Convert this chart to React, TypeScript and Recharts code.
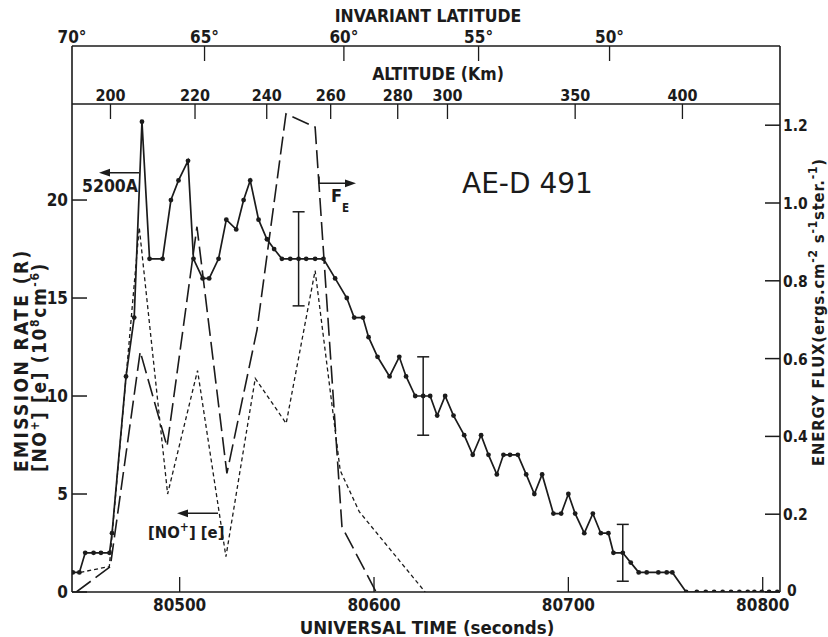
import React from 'react';
import { ComposedChart, Line, XAxis, YAxis, ErrorBar } from 'recharts';

// ---- 5200A emission rate (R), solid line with dots (left axis) ----
const emissionTime = [
  80445.0, 80448.4, 80451.4, 80455.7, 80459.5, 80463.9, 80465.2, 80472.4, 80476.6, 80480.6,
  80484.5, 80491.2, 80495.5, 80499.4, 80504.3, 80507.1, 80511.8, 80515.2, 80520.0, 80524.0,
  80529.1, 80532.9, 80536.3, 80540.6, 80544.9, 80548.6, 80552.6, 80556.9, 80561.2, 80565.1,
  80569.7, 80574.0, 80580.0, 80586.0, 80589.8, 80594.3, 80597.2, 80601.8, 80608.0, 80613.0,
  80616.5, 80621.2, 80625.3, 80628.9, 80632.5, 80636.6, 80640.9, 80646.4, 80650.8, 80655.1,
  80658.9, 80663.2, 80666.6, 80670.0, 80674.0, 80678.3, 80682.5, 80686.5, 80692.3, 80696.3,
  80700.0, 80703.5, 80708.2, 80712.6, 80716.7, 80720.6, 80723.2, 80728.0, 80732.1, 80736.2,
  80740.3, 80746.3, 80750.6, 80753.5, 80760.6, 80766.1, 80770.7, 80775.0, 80779.4, 80783.7,
  80788.0, 80792.3, 80795.7, 80799.5, 80803.3, 80807.5,
];
const emissionRate = [
  1, 1, 2, 2, 2, 2, 3, 11, 14, 24,
  17, 17, 20, 21, 22, 17, 16, 16, 17, 19,
  18.5, 20, 21, 19, 18, 17.5, 17, 17, 17, 17,
  17, 17, 16, 15, 14, 14, 13, 12, 11, 12,
  11, 10, 10, 10, 9, 10, 9, 8, 7, 8,
  7, 6, 7, 7, 7, 6, 5, 6, 4, 4,
  5, 4, 3, 4, 3, 3, 2, 2, 1.5, 1,
  1, 1, 1, 1, 0, 0, 0, 0, 0, 0,
  0, 0, 0, 0, 0, 0,
];
// error bars: index into the emission series and half-size (R)
const errorIndex = [28, 42, 67];
const errorSize = [2.4, 2, 1.45];

// ---- Energy flux F_E (ergs cm^-2 s^-1 ster^-1), long dashes (right axis) ----
const fluxTime = [80446.8, 80464.3, 80479.7, 80493.5, 80508.9, 80524.3, 80539.8, 80554.7, 80569.7, 80583.5, 80601.1];
const fluxValue = [0, 0.065, 0.618, 0.374, 0.939, 0.305, 0.674, 1.229, 1.195, 0.168, 0];

// ---- [NO+][e] (10^8 cm^-6), short dashes (left axis) ----
const noTime = [80448.9, 80463.8, 80479.2, 80493.8, 80509.2, 80523.8, 80538.9, 80554.8, 80569.7, 80582.6, 80592.4, 80626.3];
const noValue = [1.0, 1.3, 18.6, 5.0, 11.3, 1.8, 10.9, 8.6, 16.4, 6.2, 4.1, 0];

// ---- axes ----
const timeTicks = [80500, 80600, 80700, 80800];
const leftTicks = [0, 5, 10, 15, 20];
const rightTicks = [0, 0.2, 0.4, 0.6, 0.8, 1.0, 1.2];
const altitudeLabels = [200, 220, 240, 260, 280, 300, 350, 400];
const altitudeTime = [80464.4, 80507.9, 80544.8, 80577.7, 80612.2, 80637.8, 80703.5, 80758.7];
const latitudeLabels = [70, 65, 60, 55, 50];
const latitudeTime = [80444.6, 80512.8, 80584.5, 80653.8, 80721.2];

const TIME_DOMAIN: [number, number] = [80444.6, 80808.9];

const emissionData = emissionTime.map((t, i) => {
  const k = errorIndex.indexOf(i);
  return { t, v: emissionRate[i], err: k >= 0 ? errorSize[k] : undefined };
});
const fluxData = fluxTime.map((t, i) => ({ t, v: fluxValue[i] }));
const noData = noTime.map((t, i) => ({ t, v: noValue[i] }));

const INK = '#1b1b1b';
const FONT = '"DejaVu Sans Condensed", "DejaVu Sans", sans-serif';
const TICK_FS = 17;
const W = 600;

const LeftTick = (p: any) => (
  <g>
    <line x1={p.x} y1={p.y} x2={p.x + 15} y2={p.y} stroke={INK} strokeWidth={1.5} />
    <text x={p.x - 4} y={p.y + 6} textAnchor="end" fontSize={TICK_FS} fontWeight={W} fill={INK} fontFamily={FONT}>
      {p.payload.value}
    </text>
  </g>
);
const RightTick = (p: any) => (
  <g>
    <line x1={p.x - 15} y1={p.y} x2={p.x} y2={p.y} stroke={INK} strokeWidth={1.5} />
    <text
      x={p.x + (p.payload.value === 0 ? 7 : 3)}
      y={p.y + (p.payload.value === 0 ? 4 : 6)}
      textAnchor="start"
      fontSize={15.5}
      fontWeight={W}
      fill={INK}
      fontFamily={FONT}
    >
      {p.payload.value === 0 ? '0' : p.payload.value.toFixed(1)}
    </text>
  </g>
);
const BottomTick = (p: any) => (
  <g>
    <line x1={p.x} y1={p.y} x2={p.x} y2={p.y - 15} stroke={INK} strokeWidth={1.3} />
    <text x={p.x} y={p.y + 19} textAnchor="middle" fontSize={TICK_FS} fontWeight={W} fill={INK} fontFamily={FONT}>
      {p.payload.value}
    </text>
  </g>
);
const AltitudeTick = (p: any) => (
  <g>
    <line x1={p.x} y1={p.y} x2={p.x} y2={p.y + 15} stroke={INK} strokeWidth={1.3} />
    <text x={p.x} y={p.y - 3} textAnchor="middle" fontSize={16} fontWeight={W} fill={INK} fontFamily={FONT}>
      {altitudeLabels[p.index]}
    </text>
  </g>
);
const LatitudeTick = (p: any) => (
  <g>
    {p.index > 0 && <line x1={p.x} y1={p.y} x2={p.x} y2={p.y + 15} stroke={INK} strokeWidth={1.3} />}
    <text x={p.x} y={p.y - 3} textAnchor="middle" fontSize={TICK_FS} fontWeight={W} fill={INK} fontFamily={FONT}>
      {latitudeLabels[p.index] + '°'}
    </text>
  </g>
);

const Sup = ({ children }: { children: React.ReactNode }) => (
  <tspan dy={-7} fontSize={12}>{children}</tspan>
);

export default function App() {
  return (
    <div style={{ position: 'absolute', left: 0, top: 0, width: 828, height: 637, background: '#fff' }}>
      <ComposedChart width={828} height={637} margin={{ top: 0, right: 0, bottom: 0, left: 0 }}>
        <XAxis
          xAxisId="alt"
          orientation="top"
          type="number"
          dataKey="t"
          domain={TIME_DOMAIN}
          allowDataOverflow
          ticks={altitudeTime}
          interval={0}
          height={58}
          tickSize={0}
          tickMargin={0}
          tickLine={false}
          axisLine={{ stroke: INK, strokeWidth: 1.6 }}
          tick={AltitudeTick}
        />
        <XAxis
          xAxisId="lat"
          orientation="top"
          type="number"
          dataKey="t"
          domain={TIME_DOMAIN}
          allowDataOverflow
          ticks={latitudeTime}
          interval={0}
          height={46}
          tickSize={0}
          tickMargin={0}
          tickLine={false}
          axisLine={{ stroke: INK, strokeWidth: 1.6 }}
          tick={LatitudeTick}
        />
        <XAxis
          xAxisId="time"
          orientation="bottom"
          type="number"
          dataKey="t"
          domain={TIME_DOMAIN}
          allowDataOverflow
          ticks={timeTicks}
          interval={0}
          height={45}
          tickSize={0}
          tickMargin={0}
          tickLine={false}
          axisLine={{ stroke: INK, strokeWidth: 1.6 }}
          tick={BottomTick}
        />
        <YAxis
          yAxisId="L"
          orientation="left"
          type="number"
          domain={[0, 24.9]}
          allowDataOverflow
          ticks={leftTicks}
          interval={0}
          width={72}
          tickSize={0}
          tickMargin={0}
          tickLine={false}
          axisLine={{ stroke: INK, strokeWidth: 1.6 }}
          tick={LeftTick}
        />
        <YAxis
          yAxisId="R"
          orientation="right"
          type="number"
          domain={[0, 1.2545]}
          allowDataOverflow
          ticks={rightTicks}
          interval={0}
          width={48}
          tickSize={0}
          tickMargin={0}
          tickLine={false}
          axisLine={{ stroke: INK, strokeWidth: 1.6 }}
          tick={RightTick}
        />

        <Line
          xAxisId="time"
          yAxisId="R"
          data={fluxData}
          dataKey="v"
          type="linear"
          stroke={INK}
          strokeWidth={1.6}
          strokeDasharray="18 6"
          dot={false}
          isAnimationActive={false}
        />
        <Line
          xAxisId="time"
          yAxisId="L"
          data={noData}
          dataKey="v"
          type="linear"
          stroke={INK}
          strokeWidth={1.3}
          strokeDasharray="4 3"
          dot={false}
          isAnimationActive={false}
        />
        <Line
          xAxisId="time"
          yAxisId="L"
          data={emissionData}
          dataKey="v"
          type="linear"
          stroke={INK}
          strokeWidth={1.7}
          dot={{ r: 2.4, fill: INK, stroke: INK, strokeWidth: 0 }}
          isAnimationActive={false}
        >
          <ErrorBar dataKey="err" width={6} stroke={INK} strokeWidth={1.5} direction="y" />
        </Line>

        {/* frame of the latitude box, titles and annotations */}
        <g fontFamily={FONT} fill={INK} fontWeight={W}>
          <line x1={72} y1={46} x2={72} y2={104} stroke={INK} strokeWidth={1.6} />
          <line x1={780} y1={46} x2={780} y2={104} stroke={INK} strokeWidth={1.6} />
          <text x={428} y={22} textAnchor="middle" fontSize={17.5}>INVARIANT LATITUDE</text>
          <text x={438} y={80} textAnchor="middle" fontSize={17.5}>ALTITUDE (Km)</text>
          <text x={427} y={634} textAnchor="middle" fontSize={18.5}>UNIVERSAL TIME (seconds)</text>

          <text transform="translate(28,472) rotate(-90)" textAnchor="start" fontSize={19} letterSpacing={2.4}>
            EMISSION RATE (R)
          </text>
          <text transform="translate(46,472) rotate(-90)" textAnchor="start" fontSize={19} letterSpacing={1.6}>
            [NO<Sup>+</Sup><tspan dy={7}>] [e] (10</tspan><Sup>8</Sup><tspan dy={7}>cm</tspan>
            <Sup>-6</Sup><tspan dy={7}>)</tspan>
          </text>
          <text transform="translate(824,312) rotate(-90)" textAnchor="middle" fontSize={16.5} letterSpacing={0.8}>
            ENERGY  FLUX(ergs.cm<Sup>-2</Sup><tspan dy={7}> s</tspan><Sup>-1</Sup>
            <tspan dy={7}>ster.</tspan><Sup>-1</Sup><tspan dy={7}>)</tspan>
          </text>

          <text x={82} y={192} fontSize={17.5}>5200A</text>
          <line x1={139} y1={172.7} x2={106} y2={172.7} stroke={INK} strokeWidth={1.5} />
          <polygon points="99,172.7 110,168.8 110,176.6" fill={INK} />

          <polyline points="319,176.5 319,183.3 348,183.3" fill="none" stroke={INK} strokeWidth={1.5} />
          <polygon points="356,183.3 345,179.4 345,187.2" fill={INK} />
          <text x={331} y={202} fontSize={18}>F</text>
          <text x={342} y={212} fontSize={11.5}>E</text>

          <text x={462} y={193} fontSize={28} fontWeight={400} fontFamily='"DejaVu Sans", sans-serif'>AE-D 491</text>

          <text x={148} y={538} fontSize={16.5}>
            [NO<Sup>+</Sup><tspan dy={7}>] [e]</tspan>
          </text>
          <line x1={218} y1={513.3} x2={184} y2={513.3} stroke={INK} strokeWidth={1.5} />
          <polygon points="177,513.3 188,509.4 188,517.2" fill={INK} />
        </g>
      </ComposedChart>
    </div>
  );
}
